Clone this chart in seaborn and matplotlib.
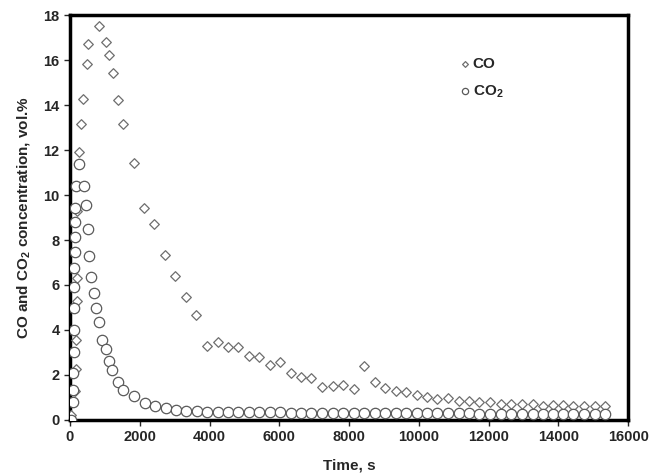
import numpy as np
import pandas as pd
import matplotlib
matplotlib.use('Agg')
import matplotlib.pyplot as plt
import seaborn as sns

# CO concentration vs time
co_time = [30, 140, 165, 175, 190, 200, 215, 266, 315, 372, 479, 524, 822,
           1023, 1126, 1223, 1367, 1527, 1834,
           2129, 2415, 2722, 3009, 3315, 3619, 3934, 4231, 4536, 4823,
           5129, 5415, 5731, 6017, 6323, 6619, 6905, 7212, 7527, 7831,
           8138, 8434, 8739, 9026, 9332, 9628, 9934, 10221, 10525, 10840,
           11146, 11433, 11728, 12034, 12341, 12650, 12950, 13257, 13544,
           13840, 14135, 14430, 14740, 15043, 15330]
co_val = [0.2, 1.3, 2.25, 3.55, 5.3, 6.3, 9.3, 11.9, 13.16, 14.28, 15.85, 16.7, 17.51,
          16.83, 16.22, 15.42, 14.22, 13.16, 11.44,
          9.42, 8.71, 7.33, 6.4, 5.45, 4.65, 3.29, 3.48, 3.26, 3.26,
          2.84, 2.79, 2.44, 2.56, 2.07, 1.93, 1.85, 1.48, 1.53, 1.56,
          1.38, 2.41, 1.67, 1.41, 1.30, 1.23, 1.11, 1.04, 0.93, 0.96,
          0.86, 0.86, 0.81, 0.79, 0.71, 0.71, 0.71, 0.71, 0.64,
          0.66, 0.67, 0.64, 0.64, 0.64, 0.62]

# CO2 concentration vs time
co2_time = [20, 77, 80, 85, 120, 122, 124, 126, 128, 130, 132, 134, 136, 172,
            266, 410, 458, 507, 553, 602, 696, 745, 840, 908, 1032, 1126,
            1195, 1384, 1527, 1834, 2149, 2436, 2742, 3029, 3324, 3630, 3934,
            4231, 4536, 4823, 5129, 5415, 5731, 6017, 6323, 6619, 6905, 7212,
            7527, 7831, 8138, 8434, 8739, 9026, 9332, 9628, 9934, 10221, 10525,
            10840, 11146, 11433, 11728, 12034, 12341, 12650, 12950, 13257,
            13544, 13840, 14135, 14430, 14740, 15043, 15330]
co2_val = [0.0, 0.81, 1.33, 2.07, 3.04, 4.0, 4.96, 5.92, 6.74, 7.48, 8.15, 8.81, 9.44, 10.4,
           11.37, 10.4, 9.56, 8.47, 7.29, 6.37, 5.63, 4.96, 4.37, 3.56, 3.14, 2.64,
           2.22, 1.70, 1.33, 1.08, 0.74, 0.62, 0.52, 0.44, 0.41, 0.39, 0.36,
           0.35, 0.35, 0.34, 0.34, 0.33, 0.33, 0.33, 0.32, 0.32, 0.32, 0.31,
           0.31, 0.31, 0.31, 0.30, 0.30, 0.30, 0.30, 0.30, 0.29, 0.29, 0.29,
           0.29, 0.29, 0.29, 0.28, 0.28, 0.28, 0.28, 0.28, 0.28,
           0.28, 0.28, 0.28, 0.27, 0.27, 0.27, 0.27]

co = pd.DataFrame({'time': co_time, 'conc': co_val})
co2 = pd.DataFrame({'time': co2_time, 'conc': co2_val})

sns.set_style('ticks')
plt.rcParams['font.family'] = ['Liberation Sans', 'DejaVu Sans']
plt.rcParams['font.weight'] = 'bold'
plt.rcParams['mathtext.fontset'] = 'custom'
plt.rcParams['mathtext.rm'] = 'Liberation Sans:bold'
plt.rcParams['mathtext.it'] = 'Liberation Sans:bold'
plt.rcParams['mathtext.bf'] = 'Liberation Sans:bold'

fig, ax = plt.subplots(figsize=(6.51, 4.75), dpi=100)
fig.subplots_adjust(left=0.1075, right=0.965, top=0.968, bottom=0.116)

sns.scatterplot(data=co, x='time', y='conc', marker='D', s=24,
                facecolor='white', edgecolor='#6e6e6e', linewidth=0.9,
                label='CO', ax=ax, zorder=3)
sns.scatterplot(data=co2, x='time', y='conc', marker='o', s=56,
                facecolor='white', edgecolor='#5a5a5a', linewidth=0.9,
                label='CO$_2$', ax=ax, zorder=4)

ax.set_xlim(0, 16000)
ax.set_ylim(0, 18)
ax.set_xticks(np.arange(0, 16001, 2000))
ax.set_yticks(np.arange(0, 19, 2))
for s in ax.spines.values():
    s.set_linewidth(2.5)
    s.set_color('black')
ax.tick_params(direction='out', length=4, width=1, labelsize=10.5)
for lab in ax.get_xticklabels() + ax.get_yticklabels():
    lab.set_fontweight('bold')

ax.set_xlabel('Time, s', fontsize=11, fontweight='bold', labelpad=10)
ax.set_ylabel('CO and CO$_2$ concentration, vol.%', fontsize=11, fontweight='bold', labelpad=8)

leg = ax.legend(loc='upper left', bbox_to_anchor=(0.675, 0.93), frameon=False,
                markerscale=0.6, handlelength=0.6, handletextpad=0.2,
                labelspacing=0.8, prop={'weight': 'bold', 'size': 11})

fig.savefig('out.png', dpi=100)
